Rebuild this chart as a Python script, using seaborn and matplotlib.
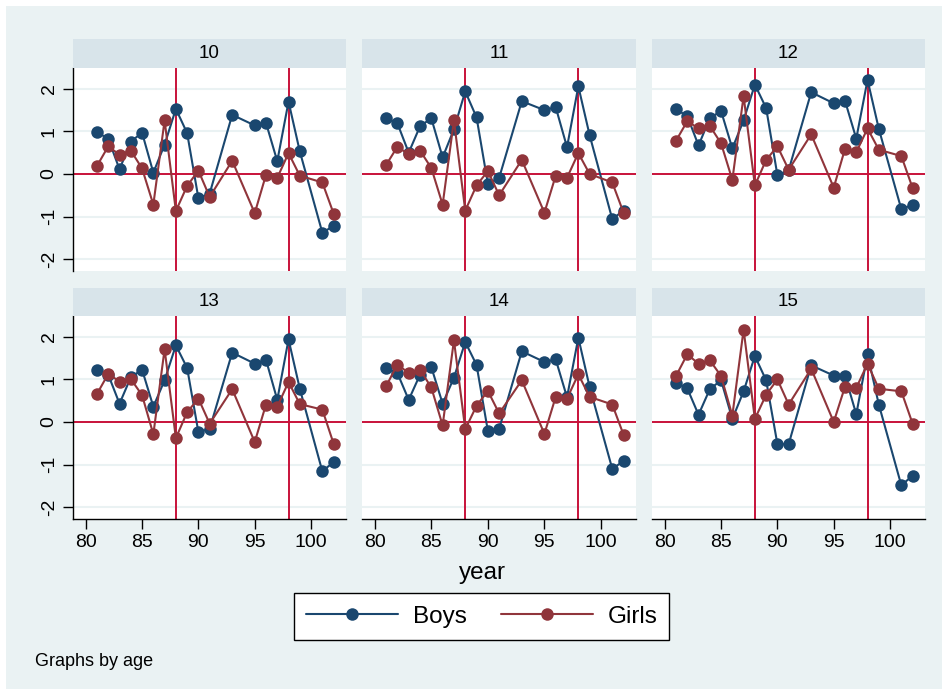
import numpy as np
import pandas as pd
import matplotlib
matplotlib.use("Agg")
import matplotlib.pyplot as plt
from matplotlib.patches import Rectangle
from matplotlib.lines import Line2D
import seaborn as sns

sns.set_style("white")
plt.rcParams['font.family'] = ['Liberation Sans', 'DejaVu Sans']
plt.rcParams['text.color'] = 'black'
plt.rcParams['xtick.color'] = 'black'
plt.rcParams['ytick.color'] = 'black'
plt.rcParams['axes.unicode_minus'] = False

years = [81, 82, 83, 84, 85, 86, 87, 88, 89, 90, 91, 93, 95, 96, 97, 98, 99, 101, 102]
ages = [10, 11, 12, 13, 14, 15]

boys_10 = [0.98, 0.83, 0.11, 0.76, 0.97, 0.03, 0.69, 1.53, 0.96, -0.57, -0.46, 1.39, 1.14, 1.20, 0.30, 1.70, 0.53, -1.38, -1.22]
girls_10 = [0.19, 0.65, 0.45, 0.55, 0.13, -0.72, 1.26, -0.87, -0.28, 0.08, -0.54, 0.31, -0.92, -0.02, -0.09, 0.49, -0.04, -0.20, -0.93]
boys_11 = [1.31, 1.19, 0.50, 1.12, 1.31, 0.39, 1.05, 1.94, 1.33, -0.23, -0.09, 1.71, 1.50, 1.57, 0.63, 2.06, 0.91, -1.06, -0.86]
girls_11 = [0.21, 0.64, 0.46, 0.55, 0.14, -0.72, 1.26, -0.86, -0.27, 0.07, -0.50, 0.33, -0.91, -0.04, -0.09, 0.49, 0.00, -0.20, -0.91]
boys_12 = [1.52, 1.36, 0.67, 1.31, 1.48, 0.60, 1.26, 2.10, 1.55, -0.03, 0.09, 1.92, 1.66, 1.72, 0.83, 2.21, 1.06, -0.83, -0.72]
girls_12 = [0.78, 1.24, 1.07, 1.13, 0.72, -0.14, 1.83, -0.27, 0.33, 0.65, 0.10, 0.93, -0.32, 0.59, 0.51, 1.07, 0.57, 0.42, -0.33]
boys_13 = [1.22, 1.11, 0.43, 1.05, 1.23, 0.36, 0.98, 1.80, 1.27, -0.24, -0.16, 1.63, 1.37, 1.46, 0.52, 1.94, 0.78, -1.16, -0.94]
girls_13 = [0.66, 1.13, 0.95, 1.01, 0.63, -0.29, 1.71, -0.38, 0.23, 0.55, -0.04, 0.77, -0.47, 0.41, 0.36, 0.94, 0.42, 0.29, -0.51]
boys_14 = [1.26, 1.15, 0.52, 1.11, 1.29, 0.43, 1.04, 1.88, 1.34, -0.21, -0.16, 1.66, 1.41, 1.47, 0.58, 1.98, 0.82, -1.10, -0.92]
girls_14 = [0.84, 1.35, 1.15, 1.23, 0.81, -0.08, 1.92, -0.17, 0.38, 0.73, 0.20, 0.98, -0.28, 0.59, 0.55, 1.12, 0.59, 0.41, -0.30]
boys_15 = [0.92, 0.79, 0.17, 0.77, 0.98, 0.07, 0.72, 1.55, 0.98, -0.52, -0.52, 1.33, 1.09, 1.09, 0.18, 1.59, 0.41, -1.49, -1.26]
girls_15 = [1.08, 1.59, 1.37, 1.45, 1.08, 0.15, 2.17, 0.07, 0.64, 1.00, 0.41, 1.25, 0.00, 0.83, 0.80, 1.37, 0.78, 0.72, -0.04]

boys = [boys_10, boys_11, boys_12, boys_13, boys_14, boys_15]
girls = [girls_10, girls_11, girls_12, girls_13, girls_14, girls_15]

xticks = [80, 85, 90, 95, 100]
yticks = [-2, -1, 0, 1, 2]
ref_years = [88, 98]

rows = []
for a, b, g in zip(ages, boys, girls):
    for y, vb, vg in zip(years, b, g):
        rows.append({"age": a, "year": y, "sex": "Boys", "value": vb})
        rows.append({"age": a, "year": y, "sex": "Girls", "value": vg})
df = pd.DataFrame(rows)

NAVY = "#1A476F"
MAROON = "#90353B"
REF = "#C8123A"
BG = "#EAF2F3"
STRIP = "#D8E4EA"
palette = {"Boys": NAVY, "Girls": MAROON}

W, H = 948, 695
fig = plt.figure(figsize=(W / 100, H / 100), dpi=100)
fig.patch.set_facecolor("white")
fig.patches.append(Rectangle((6 / W, 6 / H), (W - 12) / W, (H - 12) / H,
                             transform=fig.transFigure, facecolor=BG,
                             edgecolor="none", zorder=-10))

def fx(px):
    return px / W

def fy(px):
    return 1 - px / H

cols = [(73, 346), (362, 636), (652, 925)]
plot_rows = [(68, 271), (316, 519)]
strip_rows = [(39, 68), (288, 316)]

MS = 9
LW = 1.5

for i, age in enumerate(ages):
    r, c = divmod(i, 3)
    x0, x1 = cols[c]
    y0, y1 = plot_rows[r]
    s0, s1 = strip_rows[r]
    ax = fig.add_axes([fx(x0), fy(y1), fx(x1 - x0), (y1 - y0) / H])
    ax.set_facecolor("white")
    sub = df[df["age"] == age]
    for yv in [-2, -1, 1, 2]:
        ax.axhline(yv, color=BG, lw=1.5, zorder=0.5)
    for xv in ref_years:
        ax.axvline(xv, color=REF, lw=1.4, zorder=1)
    ax.axhline(0, color=REF, lw=1.4, zorder=1)
    sns.lineplot(data=sub, x="year", y="value", hue="sex", palette=palette,
                 marker="o", markersize=MS, markeredgewidth=0, linewidth=LW,
                 ax=ax, legend=False, zorder=3, estimator=None, sort=False)
    ax.set_xlim(78.87, 103.1)
    ax.set_ylim(-2.28, 2.49)
    ax.set_xlabel("")
    ax.set_ylabel("")
    for sp in ax.spines.values():
        sp.set_visible(False)
    ax.set_xticks(xticks)
    ax.set_yticks(yticks)
    if c == 0:
        ax.spines["left"].set_visible(True)
        ax.spines["left"].set_color("black")
        ax.spines["left"].set_linewidth(1.0)
        ax.tick_params(axis="y", left=True, length=7, width=1, color="black",
                       labelsize=14, pad=4, labelcolor="black")
        for lab in ax.get_yticklabels():
            lab.set_rotation(90)
            lab.set_va("center")
    else:
        ax.tick_params(axis="y", left=False, labelleft=False)
    if r == 1:
        ax.spines["bottom"].set_visible(True)
        ax.spines["bottom"].set_color("black")
        ax.spines["bottom"].set_linewidth(1.0)
        ax.tick_params(axis="x", bottom=True, length=7, width=1, color="black",
                       labelsize=14, pad=4, labelcolor="black")
    else:
        ax.tick_params(axis="x", bottom=False, labelbottom=False)
    # strip
    sax = fig.add_axes([fx(x0), fy(s1), fx(x1 - x0), (s1 - s0) / H])
    sax.set_facecolor(STRIP)
    sax.set_xticks([])
    sax.set_yticks([])
    for sp in sax.spines.values():
        sp.set_visible(False)
    sax.text(0.5, 0.5, str(age), ha="center", va="center", fontsize=13.5,
             color="black", transform=sax.transAxes)

fig.text(fx(482), fy(573), "year", ha="center", va="center", fontsize=17.5,
         color="black")

handles = [Line2D([0], [0], color=NAVY, lw=LW, marker="o", markersize=MS, markeredgewidth=0),
           Line2D([0], [0], color=MAROON, lw=LW, marker="o", markersize=MS, markeredgewidth=0)]
leg = fig.legend(handles, ["Boys", "Girls"], loc="center",
                 bbox_to_anchor=(fx(481.5), fy(616.5)), ncol=2, frameon=True,
                 fontsize=17.5, handlelength=3.8, columnspacing=1.4,
                 handletextpad=0.6, borderpad=0.5, borderaxespad=0,
                 fancybox=False, framealpha=1)
leg.get_frame().set_edgecolor("black")
leg.get_frame().set_linewidth(1.0)
leg.get_frame().set_facecolor("white")
for t in leg.get_texts():
    t.set_color("black")

fig.text(fx(35), fy(661), "Graphs by age", ha="left", va="center", fontsize=13,
         color="black")

fig.savefig("out.png", dpi=100, facecolor=fig.get_facecolor())
